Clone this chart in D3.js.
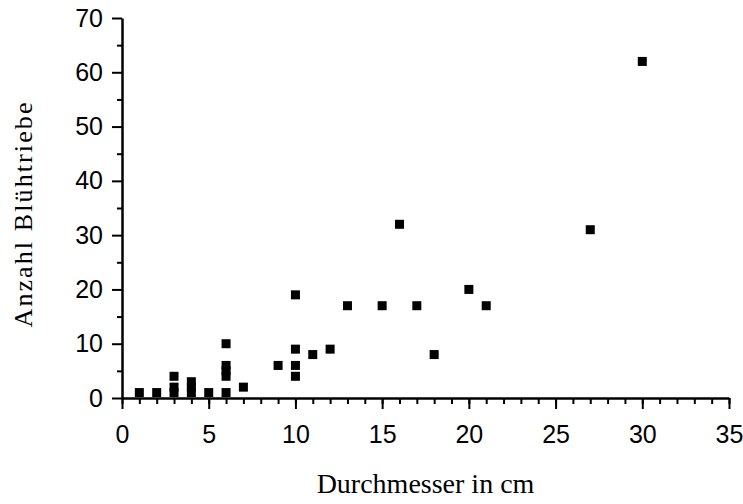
<!DOCTYPE html>
<html lang="de">
  <head>
    <meta charset="utf-8">
    <title>Blühtriebe</title>
    <style>
      body { margin: 0; background: #fff; }
      .tick text { font-family: "Liberation Sans", Arial, sans-serif; font-size: 25px; fill: #000; }
    </style>
  </head>
  <body>
    <svg id="chart"></svg>

    <script src="https://d3js.org/d3.v7.min.js"></script>
    <script>
      // Durchmesser (cm) und Anzahl Blühtriebe
      const durchmesser = [1, 2, 3, 3, 3, 4, 4, 4, 5, 6, 6, 6, 6, 6, 7, 9, 10, 10, 10, 10, 11, 12, 13, 15, 16, 17, 18, 20, 21, 27, 30];
      const bluehtriebe = [1, 1, 1, 2, 4, 1, 2, 3, 1, 1, 4, 5, 6, 10, 2, 6, 4, 6, 9, 19, 8, 9, 17, 17, 32, 17, 8, 20, 17, 31, 62];
      const xTicks = [0, 5, 10, 15, 20, 25, 30, 35];
      const yTicks = [0, 10, 20, 30, 40, 50, 60, 70];

      const width = 743, height = 504;
      const svg = d3.select('#chart')
        .attr('width', width)
        .attr('height', height);

      const x = d3.scaleLinear().domain([0, 35]).range([122, 729]);
      const y = d3.scaleLinear().domain([0, 70]).range([398, 18]);

      // minor ticks
      svg.append('g')
        .attr('transform', `translate(0,${y(0)})`)
        .call(d3.axisBottom(x).tickValues(d3.range(0, 36, 1)).tickSize(6).tickFormat(''))
        .call(g => g.select('.domain').remove())
        .selectAll('line').attr('stroke', '#000').attr('stroke-width', 2);

      svg.append('g')
        .attr('transform', `translate(${x(0)},0)`)
        .call(d3.axisLeft(y).tickValues(d3.range(5, 70, 10)).tickSize(5).tickFormat(''))
        .call(g => g.select('.domain').remove())
        .selectAll('line').attr('stroke', '#000').attr('stroke-width', 2);

      // major ticks + labels
      const xAxis = svg.append('g')
        .attr('transform', `translate(0,${y(0)})`)
        .call(d3.axisBottom(x).tickValues(xTicks).tickSize(11).tickSizeOuter(0).tickPadding(16));
      xAxis.select('.domain').attr('stroke', '#000').attr('stroke-width', 2.5);
      xAxis.selectAll('line').attr('stroke', '#000').attr('stroke-width', 2);

      const yAxis = svg.append('g')
        .attr('transform', `translate(${x(0)},0)`)
        .call(d3.axisLeft(y).tickValues(yTicks).tickSize(10).tickSizeOuter(0).tickPadding(9));
      yAxis.select('.domain').attr('stroke', '#000').attr('stroke-width', 2.5);
      yAxis.selectAll('line').attr('stroke', '#000').attr('stroke-width', 2);

      // points
      const s = 9;
      svg.append('g')
        .selectAll('rect')
        .data(durchmesser)
        .join('rect')
        .attr('x', (d, i) => x(d) - s / 2)
        .attr('y', (d, i) => y(bluehtriebe[i]) - s / 2)
        .attr('width', s)
        .attr('height', s)
        .attr('fill', '#000');

      // axis titles
      svg.append('text')
        .attr('x', (x(0) + x(35)) / 2)
        .attr('y', 493)
        .attr('text-anchor', 'middle')
        .style('font-family', '"Liberation Serif", "Times New Roman", serif')
        .style('font-size', '28px')
        .text('Durchmesser in cm');

      svg.append('text')
        .attr('transform', 'translate(32,215) rotate(-90)')
        .attr('text-anchor', 'middle')
        .attr('textLength', 225)
        .attr('lengthAdjust', 'spacing')
        .style('font-family', '"Liberation Serif", "Times New Roman", serif')
        .style('font-size', '26px')
        .text('Anzahl Blühtriebe');
    </script>
  </body>
</html>
